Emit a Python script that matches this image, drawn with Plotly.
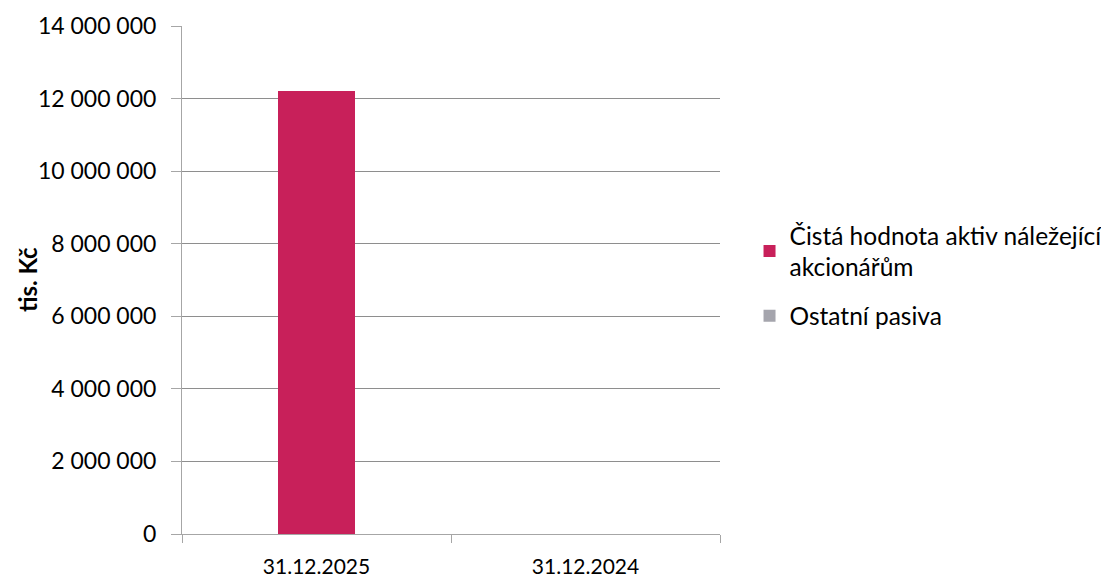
import plotly.graph_objects as go

categories = ["31.12.2025", "31.12.2024"]
cista_hodnota = [12220000, 0]
ostatni_pasiva = [0, 0]
series_names = ["Čistá hodnota aktiv náležející<br>akcionářům", "Ostatní pasiva"]
y_ticks = [0, 2000000, 4000000, 6000000, 8000000, 10000000, 12000000, 14000000]
y_tick_labels = ["0", "2 000 000", "4 000 000", "6 000 000", "8 000 000", "10 000 000", "12 000 000", "14 000 000"]
y_title = "tis. Kč"

font_family = "Lato, 'Open Sans', sans-serif"

fig = go.Figure()
fig.add_trace(go.Bar(x=categories, y=cista_hodnota, name=series_names[0], legendgroup="a",
                     marker=dict(color="#C8205A", line=dict(width=0)), width=0.283))
fig.add_trace(go.Bar(x=categories, y=ostatni_pasiva, name=series_names[1], legendgroup="b",
                     marker=dict(color="#A5A5AD", line=dict(width=0)), width=0.283))

fig.update_layout(
    barmode="stack",
    width=1101, height=573,
    margin=dict(l=174, r=389, t=18, b=47, autoexpand=False),
    paper_bgcolor="white", plot_bgcolor="white",
    font=dict(family=font_family, size=22, color="#000000"),
    showlegend=True,
    legend=dict(xref="container", yref="container", x=0.6735, xanchor="left",
                y=0.643, yanchor="top",
                font=dict(size=24.5), traceorder="grouped",
                tracegroupgap=14, itemwidth=30),
    xaxis=dict(type="category", showline=True, linecolor="#A6A6A6", linewidth=1,
               ticks="outside", tickson="boundaries", ticklen=8, tickcolor="#A6A6A6",
               showgrid=False, tickfont=dict(size=21), ticklabelstandoff=14,
               automargin=False),
    yaxis=dict(range=[0, 14000000], tickvals=y_ticks, ticktext=y_tick_labels,
               showline=True, linecolor="#A6A6A6", linewidth=1,
               ticks="outside", ticklen=10, tickcolor="#A6A6A6",
               showgrid=True, gridcolor="#8E8E8E", gridwidth=1, zeroline=False,
               tickfont=dict(size=23), ticklabelstandoff=10, automargin=False),
    annotations=[dict(text="<b>" + y_title + "</b>", xref="paper", yref="paper",
                      x=(27 - 182) / 538, y=(534 - 280) / 508, xanchor="center", yanchor="middle",
                      textangle=-90, showarrow=False, font=dict(size=24))],
)

fig.write_html("out.html")
